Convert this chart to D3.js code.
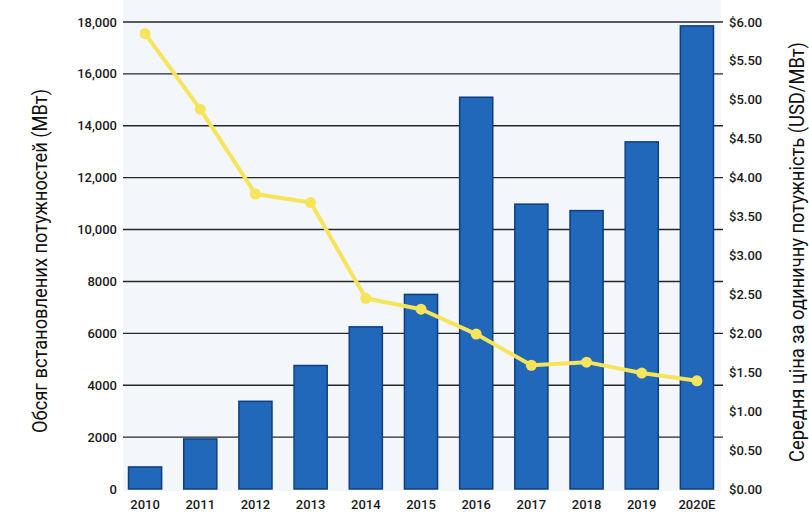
<!DOCTYPE html>
<meta charset="utf-8">
<script src="https://d3js.org/d3.v7.min.js"></script>
<style>
    body { margin: 0; background: #fff; }
    .tick-label { font-family: Roboto, sans-serif; font-size: 13px; font-weight: 500; fill: #1a1a1a; }
    .title { font-family: Roboto, sans-serif; font-size: 20px; fill: #111; text-anchor: middle; }
</style>
<div id="chart"></div>
<script>
    // data
    const years = ["2010", "2011", "2012", "2013", "2014", "2015", "2016", "2017", "2018", "2019", "2020E"];
    const capacity = [850, 1930, 3380, 4760, 6250, 7500, 15100, 10980, 10730, 13380, 17850];
    const price = [5.85, 4.88, 3.79, 3.68, 2.45, 2.31, 1.99, 1.59, 1.63, 1.49, 1.39];
    const leftTicks = [0, 2000, 4000, 6000, 8000, 10000, 12000, 14000, 16000, 18000];
    const rightTicks = [0, 0.5, 1, 1.5, 2, 2.5, 3, 3.5, 4, 4.5, 5, 5.5, 6];

    const W = 809, H = 523;
    const plotLeft = 123, plotRight = 719, plotTop = 22, plotBottom = 489;

    const svg = d3.select("#chart").append("svg")
        .attr("width", W).attr("height", H);

    const x = d3.scaleBand()
        .domain(years)
        .range([plotLeft, plotRight])
        .paddingInner(0.4)
        .paddingOuter(0.1);

    const y = d3.scaleLinear().domain([0, 18000]).range([plotBottom, plotTop]);
    const y2 = d3.scaleLinear().domain([0, 6]).range([plotBottom, plotTop]);

    // plot background
    svg.append("rect")
        .attr("x", plotLeft).attr("y", 0)
        .attr("width", plotRight - plotLeft + 2).attr("height", plotBottom + 2)
        .attr("fill", "#f3f6fa");

    // gridlines
    svg.append("g").selectAll("line")
        .data(leftTicks.filter(d => d > 0))
        .join("line")
        .attr("x1", plotLeft).attr("x2", plotRight + 4)
        .attr("y1", d => y(d)).attr("y2", d => y(d))
        .attr("stroke", "#262626").attr("stroke-width", 1.4);

    // left axis labels
    const fmtLeft = d => d >= 10000 ? d3.format(",")(d) : String(d);
    svg.append("g").selectAll("text")
        .data(leftTicks)
        .join("text")
        .attr("class", "tick-label")
        .attr("x", plotLeft - 6)
        .attr("y", d => y(d))
        .attr("dy", "0.35em")
        .attr("text-anchor", "end")
        .text(fmtLeft);

    // right axis labels
    svg.append("g").selectAll("text")
        .data(rightTicks)
        .join("text")
        .attr("class", "tick-label")
        .attr("x", 729)
        .attr("y", d => y2(d))
        .attr("dy", "0.35em")
        .text(d => "$" + d.toFixed(2));

    // bars
    svg.append("g").selectAll("rect")
        .data(years)
        .join("rect")
        .attr("x", d => x(d))
        .attr("width", x.bandwidth())
        .attr("y", (d, i) => y(capacity[i]))
        .attr("height", (d, i) => plotBottom - y(capacity[i]))
        .attr("fill", "#2167ba")
        .attr("stroke", "#0f3f80")
        .attr("stroke-width", 1.5);

    // x labels
    svg.append("g").selectAll("text")
        .data(years)
        .join("text")
        .attr("class", "tick-label")
        .attr("x", d => x(d) + x.bandwidth() / 2)
        .attr("y", 509)
        .attr("text-anchor", "middle")
        .text(d => d);

    // price line
    const line = d3.line()
        .x((d, i) => x(years[i]) + x.bandwidth() / 2)
        .y(d => y2(d));

    svg.append("path")
        .datum(price)
        .attr("d", line)
        .attr("fill", "none")
        .attr("stroke", "#f6e45a")
        .attr("stroke-width", 4)
        .attr("stroke-linejoin", "round");

    svg.append("g").selectAll("circle")
        .data(price)
        .join("circle")
        .attr("cx", (d, i) => x(years[i]) + x.bandwidth() / 2)
        .attr("cy", d => y2(d))
        .attr("r", 5.5)
        .attr("fill", "#f6e45a");

    // axis titles (the source text is a bit narrow, so squeeze to its length)
    svg.append("text")
        .attr("class", "title")
        .attr("transform", "translate(47,261) rotate(-90)")
        .attr("textLength", 344)
        .attr("lengthAdjust", "spacingAndGlyphs")
        .text("Обсяг встановлених потужностей (МВт)");

    svg.append("text")
        .attr("class", "title")
        .attr("transform", "translate(804,252) rotate(-90)")
        .attr("textLength", 420)
        .attr("lengthAdjust", "spacingAndGlyphs")
        .text("Середня ціна за одиничну потужність (USD/МВт)");
</script>
